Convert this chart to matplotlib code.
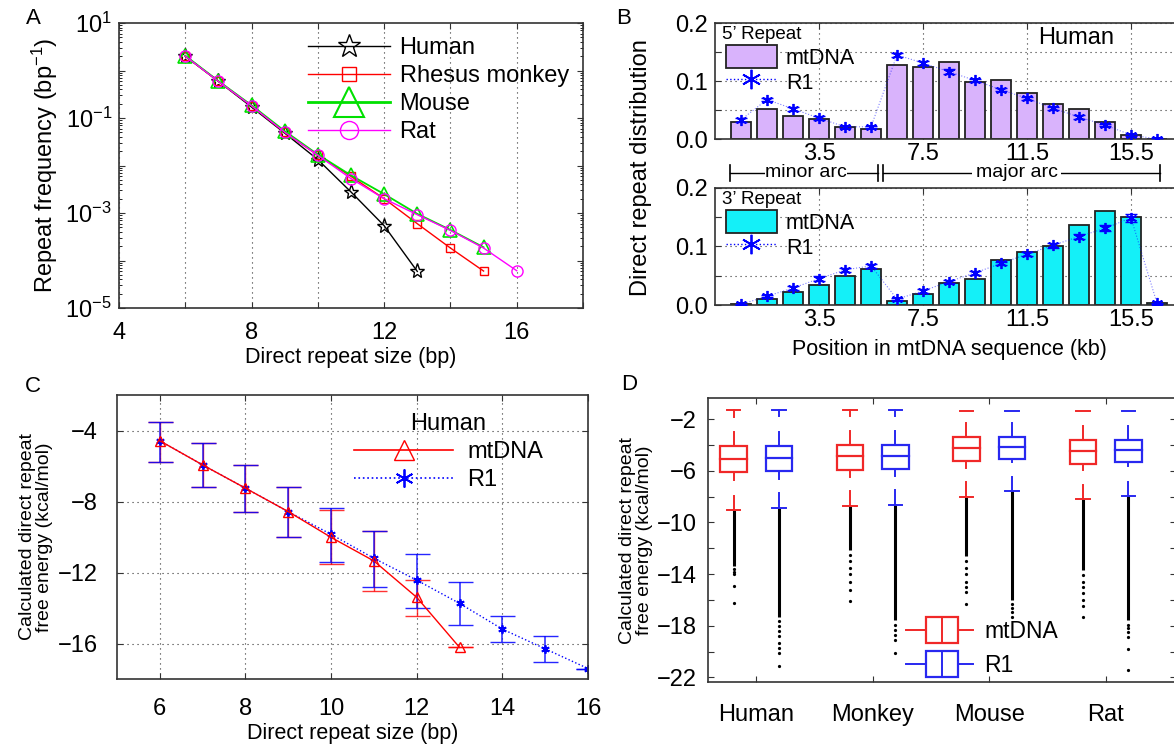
import math

import matplotlib
matplotlib.use("Agg")
import matplotlib.pyplot as plt
import matplotlib.transforms as mtransforms
from matplotlib.legend_handler import HandlerBase
from matplotlib.lines import Line2D
from matplotlib.patches import Patch, Rectangle
from matplotlib.ticker import FixedLocator, FuncFormatter, LogLocator, NullFormatter

plt.rcParams['font.family'] = ['Liberation Sans', 'DejaVu Sans']
plt.rcParams['mathtext.fontset'] = 'custom'
plt.rcParams['mathtext.rm'] = 'Liberation Sans'
plt.rcParams['mathtext.it'] = 'Liberation Sans:italic'

# ---- panel A: repeat frequency vs size ----
size_human = [6, 7, 8, 9, 10, 11, 12, 13]
freq_human = [2.0, 0.59, 0.17, 0.048, 0.0133, 0.00277, 5.4e-4, 5.9e-5]
size_rhesus = [6, 7, 8, 9, 10, 11, 12, 13, 14, 15]
freq_rhesus = [2.0, 0.59, 0.18, 0.050, 0.0164, 0.0059, 0.0020, 5.96e-4, 1.83e-4, 6.0e-5]
size_mouse = [6, 7, 8, 9, 10, 11, 12, 13, 14, 15]
freq_mouse = [2.05, 0.60, 0.185, 0.053, 0.017, 0.0062, 0.0025, 9.6e-4, 4.4e-4, 1.9e-4]
size_rat = [6, 7, 8, 9, 10, 11, 12, 13, 14, 15, 16]
freq_rat = [2.0, 0.59, 0.18, 0.050, 0.0164, 0.0053, 0.0020, 9.2e-4, 4.3e-4, 1.83e-4, 6.1e-5]

# ---- panel B: distribution along the mtDNA (1 kb bins) ----
bin_pos = [0.5, 1.5, 2.5, 3.5, 4.5, 5.5, 6.5, 7.5, 8.5, 9.5, 10.5, 11.5, 12.5, 13.5, 14.5, 15.5, 16.5]
mt_5p = [0.029, 0.052, 0.039, 0.034, 0.020, 0.018, 0.127, 0.124, 0.132, 0.098, 0.102,
         0.079, 0.060, 0.051, 0.030, 0.007, 0.0]
r1_5p = [0.033, 0.068, 0.052, 0.036, 0.021, 0.021, 0.145, 0.131, 0.116, 0.101, 0.085,
         0.070, 0.053, 0.038, 0.024, 0.007, 0.0]
r1_5p_err = [0.003, 0.003, 0.003, 0.003, 0.002, 0.002, 0.004, 0.004, 0.004, 0.003, 0.003,
             0.003, 0.003, 0.003, 0.002, 0.002, 0.001]
mt_3p = [0.001, 0.011, 0.022, 0.034, 0.050, 0.062, 0.006, 0.019, 0.037, 0.045, 0.077,
         0.091, 0.101, 0.136, 0.160, 0.151, 0.003]
r1_3p = [0.001, 0.015, 0.029, 0.045, 0.060, 0.067, 0.010, 0.024, 0.040, 0.055, 0.071,
         0.087, 0.102, 0.117, 0.131, 0.149, 0.003]
r1_3p_err = [0.001, 0.002, 0.003, 0.004, 0.003, 0.003, 0.002, 0.003, 0.003, 0.003, 0.003,
             0.003, 0.004, 0.004, 0.005, 0.007, 0.001]
b_ticks = [3.5, 7.5, 11.5, 15.5]

# ---- panel C: free energy vs repeat size (human) ----
size_c_mt = [6, 7, 8, 9, 10, 11, 12, 13]
energy_mt = [-4.58, -5.94, -7.25, -8.57, -10.02, -11.35, -13.40, -16.22]
energy_mt_hi = [-3.53, -4.71, -5.96, -7.16, -8.48, -9.64, -12.43, -16.22]
energy_mt_lo = [-5.75, -7.20, -8.60, -10.02, -11.54, -13.05, -14.46, -16.22]
size_c_r1 = [6, 7, 8, 9, 10, 11, 12, 13, 14, 15, 16]
energy_r1 = [-4.58, -5.94, -7.25, -8.57, -9.85, -11.20, -12.43, -13.74, -15.19, -16.30, -17.41]
energy_r1_hi = [-3.53, -4.71, -5.96, -7.16, -8.35, -9.64, -10.96, -12.56, -14.46, -15.59, -17.41]
energy_r1_lo = [-5.75, -7.20, -8.60, -10.02, -11.39, -12.80, -13.99, -14.96, -15.94, -17.03, -17.41]

# ---- panel D: free energy box plots ----
species = ["Human", "Monkey", "Mouse", "Rat"]
box_set = ["mtDNA", "R1", "mtDNA", "R1", "mtDNA", "R1", "mtDNA", "R1"]
top_val = [-1.33, -1.33, -1.33, -1.33, -1.35, -1.35, -1.35, -1.35]
top_stub = [-1.85, -1.80, -1.80, -1.80, -1.35, -1.35, -1.35, -1.35]
whisk_hi = [-3.00, -3.00, -2.96, -2.96, -2.31, -2.31, -2.52, -2.52]
q3 = [-4.12, -4.12, -4.02, -4.02, -3.42, -3.42, -3.63, -3.60]
med = [-5.07, -5.02, -4.89, -4.89, -4.27, -4.20, -4.48, -4.40]
q1 = [-6.08, -6.03, -5.95, -5.90, -5.23, -5.10, -5.44, -5.33]
whisk_lo = [-6.75, -6.65, -6.50, -6.37, -5.75, -5.36, -5.98, -5.67]
lo_start = [-7.94, -7.74, -7.60, -7.48, -6.88, -6.50, -7.14, -6.88]
lo_cap = [-9.03, -8.87, -8.74, -8.62, -8.00, -7.56, -8.18, -7.94]
dense_end = [-13.4, -17.3, -12.1, -17.56, -12.6, -16.0, -13.7, -17.56]
sparse_out = [
    [-13.6, -13.8, -14.0, -14.9, -16.26],
    [-17.6, -18.0, -18.4, -18.8, -19.3, -19.7, -20.1, -21.1],
    [-12.5, -13.0, -13.5, -14.0, -14.6, -15.2, -16.06],
    [-17.9, -18.3, -18.7, -19.1, -20.1],
    [-13.0, -13.5, -14.0, -14.6, -15.0, -15.4, -16.3],
    [-16.3, -16.6, -16.9, -17.3],
    [-14.1, -14.6, -15.0, -15.5, -16.0, -16.5, -17.3],
    [-17.9, -18.2, -18.5, -18.85, -19.8, -21.4],
]

W, H = 1174, 745
fig = plt.figure(figsize=(W / 100, H / 100), dpi=100)
TICK = 17
ASTER = (6, 2, 0)


def add_ax(left, top, right, bottom):
    return fig.add_axes([left / W, 1 - bottom / H, (right - left) / W, (bottom - top) / H])


def style(ax):
    for s in ax.spines.values():
        s.set_linewidth(1.2)
        s.set_color('#333333')
    ax.tick_params(direction='in', top=True, right=True, labelsize=TICK, length=4,
                   color='#333333', pad=5)


GRID = dict(linestyle=(0, (1, 3.5)), color='#333333', linewidth=0.8)

# ================= A =================
axA = add_ax(119, 23, 583, 308)
style(axA)
axA.plot(size_human, freq_human, '-', color='black', lw=1, marker='*', ms=11,
         mfc='none', mec='black', mew=1)
axA.plot(size_rhesus, freq_rhesus, '-', color='red', lw=1, marker='s', ms=6,
         mfc='none', mec='red')
axA.plot(size_mouse, freq_mouse, '-', color='#00e000', lw=1.3, marker='^', ms=10,
         mfc='none', mec='#00e000', mew=1.2)
axA.plot(size_rat, freq_rat, '-', color='magenta', lw=1, marker='o', ms=8,
         mfc='none', mec='magenta')
axA.set_yscale('log')
axA.set_xlim(4, 18)
axA.set_ylim(1e-5, 1e1)
axA.xaxis.set_major_locator(FixedLocator([4, 6, 8, 10, 12, 14, 16, 18]))
axA.xaxis.set_major_formatter(FuncFormatter(lambda v, p: f"{v:.0f}" if v in (4, 8, 12, 16) else ""))
axA.yaxis.set_major_locator(FixedLocator([1e-5, 1e-4, 1e-3, 1e-2, 1e-1, 1e0, 1e1]))
axA.yaxis.set_major_formatter(FuncFormatter(
    lambda v, p: rf"$10^{{{round(math.log10(v))}}}$" if round(math.log10(v)) % 2 else ""))
axA.yaxis.set_minor_locator(LogLocator(base=10, subs=range(2, 10), numticks=20))
axA.yaxis.set_minor_formatter(NullFormatter())
axA.tick_params(which='minor', direction='in', right=True, length=2)
axA.tick_params(axis='x', pad=10)
axA.grid(True, axis='x', **GRID)
axA.set_xlabel("Direct repeat size (bp)", fontsize=15.5, labelpad=2)
axA.set_ylabel("Repeat frequency (bp$^{-1}$)", fontsize=17, labelpad=4)
handles_a = [
    Line2D([], [], color='black', lw=1, marker='*', ms=17, mfc='none', mec='black'),
    Line2D([], [], color='red', lw=1, marker='s', ms=10, mfc='none', mec='red'),
    Line2D([], [], color='#00e000', lw=2, marker='^', ms=22, mfc='none', mec='#00e000', mew=1.5),
    Line2D([], [], color='magenta', lw=1, marker='o', ms=13, mfc='none', mec='magenta'),
]
axA.legend(handles_a, ["Human", "Rhesus monkey", "Mouse", "Rat"], loc='upper right',
           bbox_to_anchor=(1.0, 1.0), frameon=False, fontsize=17, handlelength=3.5,
           labelspacing=0.25, borderpad=0.1, handletextpad=0.4)

# ================= B =================
axB1 = add_ax(715, 23, 1183, 139)
axB2 = add_ax(715, 188, 1183, 305)
for ax, mt, r1, err, col, tag in [(axB1, mt_5p, r1_5p, r1_5p_err, '#d9b3fc', "5’ Repeat"),
                                  (axB2, mt_3p, r1_3p, r1_3p_err, '#14f0f8', "3’ Repeat")]:
    style(ax)
    ax.bar(bin_pos, mt, width=0.8, color=col, edgecolor='#222222', lw=1.3, zorder=2)
    ax.errorbar(bin_pos, r1, yerr=err, fmt='none', ecolor='blue', capsize=4,
                elinewidth=1, zorder=3)
    ax.plot(bin_pos, r1, ':', color='blue', lw=0.8, alpha=0.5, zorder=3)
    ax.plot(bin_pos, r1, ls='none', marker=ASTER, color='blue', ms=8, mew=1.3, zorder=4)
    ax.set_xlim(-0.5, 17.5)
    ax.set_ylim(0, 0.2)
    ax.set_xticks(b_ticks)
    ax.set_xticklabels([f"{t:.1f}" for t in b_ticks])
    ax.yaxis.set_major_locator(FixedLocator([0, 0.05, 0.1, 0.15, 0.2]))
    ax.yaxis.set_major_formatter(FuncFormatter(
        lambda v, p: f"{v:.1f}" if abs(v * 10 - round(v * 10)) < 1e-6 else ""))
    ax.tick_params(axis='x', pad=3)
    ax.grid(True, **GRID)
    ax.set_axisbelow(True)
    ax.text(0.015, 0.9, tag, transform=ax.transAxes, fontsize=13.5, va='center', ha='left')
    hb = [Patch(facecolor=col, edgecolor='#222222', lw=1.3),
          Line2D([], [], ls=':', color='blue', marker=ASTER, ms=14, mew=1.3, lw=1)]
    ax.legend(hb, ["mtDNA", "R1"], loc='upper left', bbox_to_anchor=(-0.005, 0.92),
              frameon=False, fontsize=15.5, handlelength=2.4, handleheight=1.25,
              labelspacing=0.05, borderpad=0.1, handletextpad=0.4)
axB1.text(13.4, 0.87, "Human", transform=mtransforms.blended_transform_factory(
    axB1.transData, axB1.transAxes), fontsize=17, ha='center', va='center')

# arc annotation between the two B panels
trB = mtransforms.blended_transform_factory(axB1.transData, axB1.transAxes)
arc_y = -0.293
for x0, x1 in [(0.08, 5.77), (5.96, 16.6)]:
    axB1.plot([x0, x1], [arc_y, arc_y], color='black', lw=1, transform=trB, clip_on=False)
    axB1.plot([x0, x0], [arc_y - 0.065, arc_y + 0.065], color='black', lw=1.2,
              transform=trB, clip_on=False)
    axB1.plot([x1, x1], [arc_y - 0.065, arc_y + 0.065], color='black', lw=1.2,
              transform=trB, clip_on=False)
axB1.text(3.0, arc_y, "minor arc", transform=trB, fontsize=14, ha='center', va='center',
          bbox=dict(fc='white', ec='none', pad=0.3))
axB1.text(11.1, arc_y, "major arc", transform=trB, fontsize=14, ha='center', va='center',
          bbox=dict(fc='white', ec='none', pad=2.5))
axB2.set_xlabel("Position in mtDNA sequence (kb)", fontsize=15.5, labelpad=6)
fig.text(641 / W, 1 - 168 / H, "Direct repeat distribution", rotation=90, fontsize=17,
         ha='center', va='center')

# ================= C =================
axC = add_ax(117, 395, 588, 679)
style(axC)
axC.errorbar(size_c_mt, energy_mt,
             yerr=[[m - l for m, l in zip(energy_mt, energy_mt_lo)],
                   [h - m for m, h in zip(energy_mt, energy_mt_hi)]],
             fmt='none', ecolor='red', elinewidth=1, capsize=9, alpha=0.8)
axC.errorbar(size_c_r1, energy_r1,
             yerr=[[m - l for m, l in zip(energy_r1, energy_r1_lo)],
                   [h - m for m, h in zip(energy_r1, energy_r1_hi)]],
             fmt='none', ecolor='blue', elinewidth=1.1, capsize=9, alpha=0.85)
axC.plot(size_c_r1, energy_r1, ':', color='blue', lw=1, marker=ASTER, ms=6, mew=1.3)
axC.plot(size_c_mt, energy_mt, '-', color='red', lw=1, marker='^', ms=7, mfc='none')
axC.set_xlim(5, 16)
axC.set_ylim(-18, -2)
axC.set_xticks([6, 8, 10, 12, 14, 16])
axC.set_yticks([-4, -8, -12, -16])
axC.tick_params(axis='x', pad=14)
axC.tick_params(axis='y', pad=14)
axC.grid(True, **GRID)
axC.set_xlabel("Direct repeat size (bp)", fontsize=15.5, labelpad=2)
axC.set_ylabel("Calculated direct repeat\nfree energy (kcal/mol)", fontsize=14, linespacing=1.0,
               labelpad=3)
hc = [Line2D([], [], color='red', lw=1.2, marker='^', ms=15, mfc='none'),
      Line2D([], [], color='blue', ls=':', lw=1.2, marker=ASTER, ms=13, mew=1.3)]
axC.legend(hc, ["mtDNA", "R1"], title="Human", loc='upper right',
           bbox_to_anchor=(0.935, 0.985), frameon=False, fontsize=17,
           title_fontsize=17, handlelength=4.2, labelspacing=0.25, borderpad=0.1,
           handletextpad=0.6)

# ================= D =================
axD = add_ax(708, 398, 1175.5, 682)
style(axD)
box_x = []
for g in range(len(species)):
    box_x += [g + 1 - 0.195, g + 1 + 0.195]
colors_d = {"mtDNA": '#f02828', "R1": '#2828f0'}
bw = 0.23
cw = 0.115
for i, x in enumerate(box_x):
    c = colors_d[box_set[i]]
    # outliers: dense column + scattered points
    axD.vlines(x, dense_end[i], lo_cap[i], color='black', lw=2.2, zorder=2)
    axD.plot([x] * len(sparse_out[i]), sparse_out[i], 'o', color='black', ms=1.3, zorder=2)
    axD.add_patch(Rectangle((x - bw / 2, q1[i]), bw, q3[i] - q1[i], fc='none', ec=c,
                            lw=1.6, zorder=3))
    axD.plot([x - bw / 2, x + bw / 2], [med[i], med[i]], color=c, lw=1.6, zorder=3)
    axD.plot([x, x], [q3[i], whisk_hi[i]], color=c, lw=1.4, zorder=3)
    axD.plot([x, x], [q1[i], whisk_lo[i]], color=c, lw=1.4, zorder=3)
    axD.plot([x, x], [top_val[i], top_stub[i]], color=c, lw=1.4, zorder=3)
    axD.plot([x - cw / 2, x + cw / 2], [top_val[i], top_val[i]], color=c, lw=1.4, zorder=3)
    axD.plot([x, x], [lo_start[i], lo_cap[i]], color=c, lw=1.4, zorder=3)
    axD.plot([x - cw / 2, x + cw / 2], [lo_cap[i], lo_cap[i]], color=c, lw=1.4, zorder=4)
axD.set_xlim(0.585, 4.6)
axD.set_ylim(-22.35, -0.37)
axD.set_xticks([1, 2, 3, 4])
axD.set_xticklabels(species)
axD.tick_params(axis='x', pad=16)
axD.tick_params(axis='y', pad=8)
axD.yaxis.set_major_locator(FixedLocator(list(range(-22, 0, 2))))
axD.yaxis.set_major_formatter(FuncFormatter(
    lambda v, p: f"{v:.0f}".replace('-', '\u2212') if int(round(v)) % 4 == 2 else ""))
axD.set_ylabel("Calculated direct repeat\nfree energy (kcal/mol)", fontsize=14, linespacing=1.0,
               labelpad=3)


class BoxHandler(HandlerBase):
    def create_artists(self, legend, orig_handle, xdescent, ydescent, width, height,
                       fontsize, trans):
        c = orig_handle.get_color()
        x0 = -xdescent
        y = height / 2 - ydescent
        ln = Line2D([x0, x0 + width], [y, y], color=c, lw=1.4, transform=trans)
        rect = Rectangle((x0 + 0.3 * width, y - 0.8 * height), 0.47 * width, 1.6 * height,
                         fc='white', ec=c, lw=1.6, transform=trans)
        mid = Line2D([x0 + 0.535 * width] * 2, [y - 0.8 * height, y + 0.8 * height], color=c,
                     lw=1.4, transform=trans)
        return [ln, rect, mid]


hd = [Line2D([], [], color=colors_d["mtDNA"]), Line2D([], [], color=colors_d["R1"])]
axD.legend(hd, ["mtDNA", "R1"], handler_map={Line2D: BoxHandler()}, loc='lower left',
           bbox_to_anchor=(0.39, -0.04), frameon=False, fontsize=16.5, handlelength=2.9,
           labelspacing=0.5, handletextpad=0.5, borderpad=0.2)

# panel letters
for lab, px, py in [("A", 33, 18), ("B", 624, 18), ("C", 33, 387), ("D", 629, 385)]:
    fig.text(px / W, 1 - py / H, lab, fontsize=16, ha='center', va='center')

fig.savefig("out.png", dpi=100)
